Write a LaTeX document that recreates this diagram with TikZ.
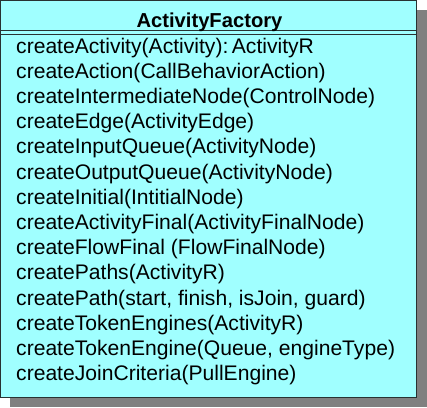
\documentclass[tikz,border=0pt]{standalone}
\usepackage{fontspec}
\setmainfont{Liberation Sans}
\definecolor{classfill}{RGB}{160,255,255}
\definecolor{shadowgray}{RGB}{128,128,128}
\definecolor{edgegray}{RGB}{40,50,50}
\tikzset{
  classtitle/.style={anchor=base, inner sep=0pt, font=\fontsize{20.2}{24}\selectfont\bfseries},
  opline/.style={anchor=base west, inner sep=0pt, font=\fontsize{21.1}{24}\selectfont},
}
\begin{document}
\begin{tikzpicture}[x=1pt, y=1pt]
	\useasboundingbox (0,0) rectangle (427,-407);
	%shadow
	\fill [shadowgray] (10,-10) rectangle (427,-407);
	%class box
	\draw [fill = classfill, draw = edgegray, line width = 1.3pt] (0.7,-0.7) rectangle (416.3,-397.3);
	\draw [edgegray, line width = 1.2pt] (0.7,-30.8) -- (416.3,-30.8);
	\draw [edgegray, line width = 1.2pt] (0.7,-34.2) -- (416.3,-34.2);
	
	%name
	\node [classtitle] (title) at (209.5,-27.5) {ActivityFactory};
	
	%operations
	\foreach \op [count=\i from 0] in {
		createActivity(Activity):\,ActivityR,
		createAction(CallBehaviorAction),
		createIntermediateNode(ControlNode),
		createEdge(ActivityEdge),
		createInputQueue(ActivityNode),
		createOutputQueue(ActivityNode),
		createInitial(IntitialNode),
		createActivityFinal(ActivityFinalNode),
		createFlowFinal (FlowFinalNode),
		createPaths(ActivityR),
		{createPath(start, finish, isJoin, guard)},
		createTokenEngines(ActivityR),
		{createTokenEngine(Queue, engineType)},
		createJoinCriteria(PullEngine)}
		\node [opline] (op\i) at (16,{-53-25.2*\i}) {\op};
\end{tikzpicture}
\end{document}
